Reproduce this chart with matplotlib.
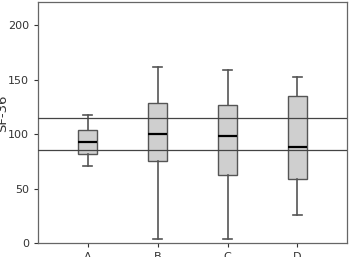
import matplotlib
matplotlib.use("Agg")
import matplotlib.pyplot as plt

categories = ["A", "B", "C", "D"]
whislo = [71, 4, 4, 26]
q1 = [82, 75.5, 62.7, 59]
med = [92.7, 100, 98.5, 88]
q3 = [103.7, 128.4, 127, 135]
whishi = [117, 161.5, 158.4, 152.6]
ref_lines = [115, 85]

stats = []
for i, c in enumerate(categories):
    stats.append(dict(label=c, whislo=whislo[i], q1=q1[i], med=med[i],
                      q3=q3[i], whishi=whishi[i], fliers=[]))

fig = plt.figure(figsize=(3.51, 2.57), dpi=100)
ax = fig.add_axes([0.108, 0.054, 0.881, 0.938])
edge = "#555555"
ax.bxp(stats, positions=range(1, 5), widths=0.26, patch_artist=True,
       showfliers=False,
       boxprops=dict(facecolor="#cfcfcf", edgecolor=edge, linewidth=1),
       medianprops=dict(color="black", linewidth=1.6),
       whiskerprops=dict(color=edge, linewidth=1.2),
       capprops=dict(color=edge, linewidth=1.2),
       capwidths=0.12)
for v in ref_lines:
    ax.axhline(v, color="#444444", linewidth=0.9, zorder=5)

ax.set_xlim(0.29, 4.71)
ax.set_ylim(0, 221)
ax.set_yticks([0, 50, 100, 150, 200])
ax.set_xticks(range(1, 5))
ax.set_xticklabels(categories)
ax.set_ylabel("SF-36", fontsize=9.5, color="#333333")
ax.yaxis.set_label_coords(-0.092, 0.54)
ax.tick_params(labelsize=8, colors="#333333", length=3, width=0.8)
for s in ax.spines.values():
    s.set_color("#666666")
    s.set_linewidth(0.9)
fig.savefig("out.png", dpi=100)
